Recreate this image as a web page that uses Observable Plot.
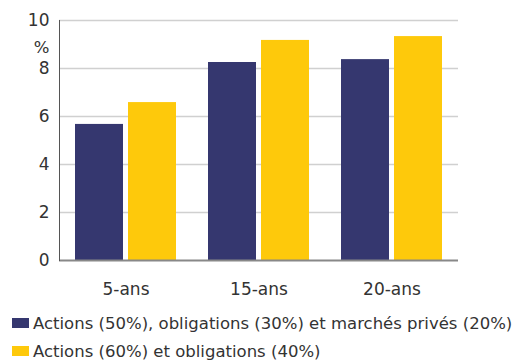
<!DOCTYPE html>
<html>
<head>
<meta charset="utf-8">
<script src="https://cdn.jsdelivr.net/npm/d3@7"></script>
<script src="https://cdn.jsdelivr.net/npm/@observablehq/plot@0.6"></script>
<style>
  html, body { margin: 0; padding: 0; background: #fff; }
  body { width: 523px; height: 361px; overflow: hidden; font-family: "DejaVu Sans", sans-serif; color: #333; }
  #legend { margin-top: 9px; font-size: 16.5px; }
  .row { display: flex; align-items: center; height: 28px; padding-left: 12px; }
  .sw { width: 17px; height: 10px; margin-right: 4px; flex: none; }
</style>
</head>
<body>
<div id="chart"></div>
<div id="legend"></div>
<script>
const categories = ["5-ans", "15-ans", "20-ans"];
const series = [
  "Actions (50%), obligations (30%) et marchés privés (20%)",
  "Actions (60%) et obligations (40%)"
];
const valuesA = [5.67, 8.25, 8.37];
const valuesB = [6.58, 9.17, 9.33];
const yTicks = [0, 2, 4, 6, 8, 10];
const unitLabel = "%";
const colors = ["#35376f", "#fec90b"];

const data = categories.flatMap((c, i) => [
  { cat: c, s: series[0], v: valuesA[i] },
  { cat: c, s: series[1], v: valuesB[i] }
]);

const chart = Plot.plot({
  width: 523,
  height: 300,
  marginLeft: 58,
  marginRight: 64,
  marginTop: 20,
  marginBottom: 40,
  style: { fontFamily: "DejaVu Sans, sans-serif", fontSize: "17px", color: "#333", background: "white" },
  fx: { domain: categories, padding: 0, label: null, axis: "bottom", tickSize: 0, tickPadding: 22 },
  x: { domain: series, axis: null, paddingInner: 0.09, paddingOuter: 0.28 },
  y: { domain: [0, 10], ticks: yTicks, label: null, tickSize: 0, tickPadding: 10 },
  color: { domain: series, range: colors },
  marks: [
    Plot.ruleY(yTicks.filter(d => d > 0), { stroke: "#d0d0d0", strokeWidth: 1.3 }),
    Plot.barY(data, { fx: "cat", x: "s", y: "v", fill: "s" }),
    Plot.ruleY([0], { stroke: "#888", strokeWidth: 2 }),
    Plot.frame({ anchor: "left", facetAnchor: "left", stroke: "#555" }),
    Plot.text([unitLabel], { frameAnchor: "top-left", dx: -10, dy: 21, textAnchor: "end", fill: "#333", fontSize: 16.5, facetAnchor: "left" })
  ]
});
document.getElementById("chart").appendChild(chart);

const legend = document.getElementById("legend");
series.forEach((s, i) => {
  const row = document.createElement("div");
  row.className = "row";
  const sw = document.createElement("span");
  sw.className = "sw";
  sw.style.background = colors[i];
  const t = document.createElement("span");
  t.textContent = s;
  row.appendChild(sw);
  row.appendChild(t);
  legend.appendChild(row);
});
</script>
</body>
</html>
